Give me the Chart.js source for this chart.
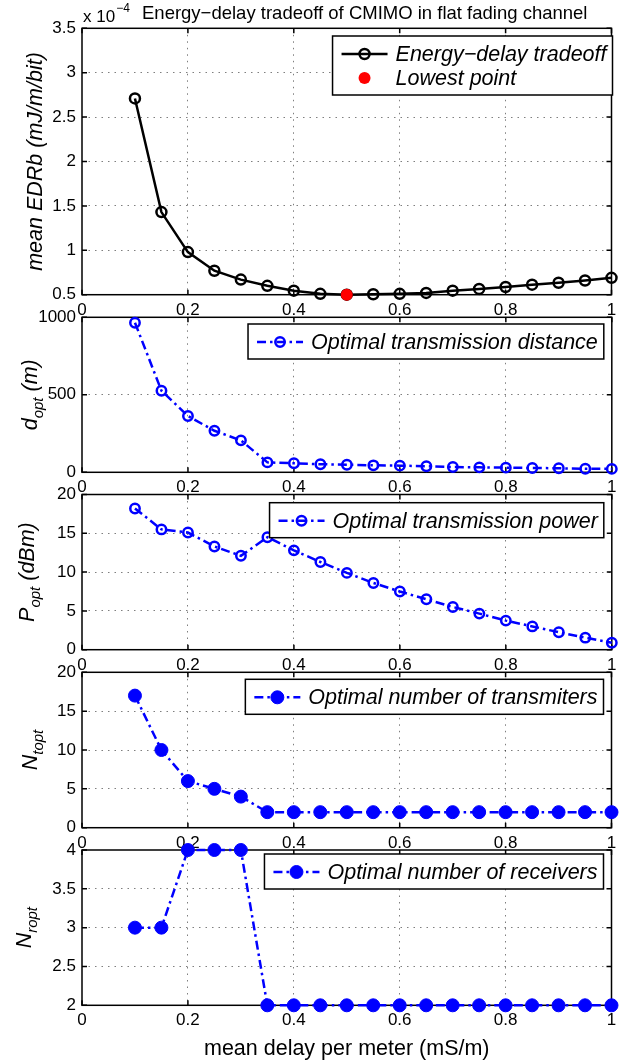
<!DOCTYPE html>
<html>
<head>
<meta charset="utf-8">
<script src="https://cdn.jsdelivr.net/npm/chart.js@4.4.0/dist/chart.umd.min.js"></script>
<style>
    html, body { margin: 0; padding: 0; background: #fff; }
    #figure { position: relative; width: 619px; height: 1061px; overflow: hidden; }
    #figure canvas { position: absolute; left: 0; top: 0; }
</style>
</head>
<body>
<div id="figure">
    <canvas id="edrbChart" width="619" height="1061"></canvas>
    <canvas id="distanceChart" width="619" height="1061"></canvas>
    <canvas id="powerChart" width="619" height="1061"></canvas>
    <canvas id="transmittersChart" width="619" height="1061"></canvas>
    <canvas id="receiversChart" width="619" height="1061"></canvas>
</div>
<script>
const fontFamily = "'Liberation Sans', Arial, Helvetica, sans-serif"

// mean delay per meter (mS/m)
const delay = [0.1, 0.15, 0.2, 0.25, 0.3, 0.35, 0.4, 0.45, 0.5, 0.55, 0.6, 0.65, 0.7, 0.75, 0.8, 0.85, 0.9, 0.95, 1.0]
const delayTicks = [0, 0.2, 0.4, 0.6, 0.8, 1]

// mean EDRb, x 1e-4 mJ/m/bit
const meanEdrb = [2.71, 1.43, 0.98, 0.77, 0.67, 0.60, 0.545, 0.51, 0.50, 0.505, 0.51, 0.52, 0.545, 0.565, 0.587, 0.613, 0.635, 0.66, 0.69]
const lowestDelay = [0.5]
const lowestEdrb = [0.5]
const edrbTicks = [0.5, 1, 1.5, 2, 2.5, 3, 3.5]

const distanceOpt = [965, 526, 363, 268, 206, 64, 58, 52, 49, 45, 43, 39, 34, 32, 30, 28, 26, 23, 22]
const distanceTicks = [0, 500, 1000]

const powerOpt = [18.2, 15.5, 15.1, 13.3, 12.1, 14.5, 12.8, 11.3, 9.9, 8.6, 7.5, 6.5, 5.5, 4.65, 3.75, 3.0, 2.25, 1.55, 0.9]
const powerTicks = [0, 5, 10, 15, 20]

const transmittersOpt = [17, 10, 6, 5, 4, 2, 2, 2, 2, 2, 2, 2, 2, 2, 2, 2, 2, 2, 2]
const transmittersTicks = [0, 5, 10, 15, 20]

const receiversOpt = [3, 3, 4, 4, 4, 2, 2, 2, 2, 2, 2, 2, 2, 2, 2, 2, 2, 2, 2]
const receiversTicks = [2, 2.5, 3, 3.5, 4]

const dashDot = [9, 4, 2.5, 4]

function toPoints(xs, ys) {
    return xs.map((x, i) => ({x: x, y: ys[i]}))
}

function drawMarker(ctx, d, cx, cy) {
    ctx.save()
    ctx.beginPath()
    ctx.arc(cx, cy, d.pointRadius, 0, Math.PI * 2)
    if (d.pointBackgroundColor && d.pointBackgroundColor !== 'transparent') {
        ctx.fillStyle = d.pointBackgroundColor
        ctx.fill()
    }
    if (d.pointBorderWidth) {
        ctx.lineWidth = d.pointBorderWidth
        ctx.strokeStyle = d.pointBorderColor
        ctx.stroke()
    }
    ctx.restore()
}

// axes box with inward tick marks
const framePlugin = {
    id: 'frame',
    beforeDatasetsDraw(chart) {
        const {ctx, chartArea: {left, right, top, bottom}, scales: {x, y}} = chart
        ctx.save()
        ctx.strokeStyle = '#000'
        ctx.lineWidth = 1.5
        ctx.beginPath()
        x.ticks.forEach(t => {
            const px = x.getPixelForValue(t.value)
            ctx.moveTo(px, bottom); ctx.lineTo(px, bottom - 5)
            ctx.moveTo(px, top); ctx.lineTo(px, top + 5)
        })
        y.ticks.forEach(t => {
            const py = y.getPixelForValue(t.value)
            ctx.moveTo(left, py); ctx.lineTo(left + 5, py)
            ctx.moveTo(right, py); ctx.lineTo(right - 5, py)
        })
        ctx.stroke()
        ctx.strokeRect(left, top, right - left, bottom - top)
        ctx.restore()
    }
}

// rotated y label with subscripts
const yTitlePlugin = {
    id: 'yTitle',
    afterDraw(chart, args, opts) {
        const {ctx, chartArea: {top, bottom}} = chart
        const size = 21.5
        const subSize = 15
        ctx.save()
        const widths = opts.parts.map(p => {
            ctx.font = `italic ${p.sub ? subSize : size}px ${fontFamily}`
            return ctx.measureText(p.text).width
        })
        const total = widths.reduce((a, b) => a + b, 0)
        ctx.translate(opts.x, (top + bottom) / 2)
        ctx.rotate(-Math.PI / 2)
        ctx.fillStyle = '#000'
        ctx.textBaseline = 'alphabetic'
        let u = -total / 2
        opts.parts.forEach((p, i) => {
            ctx.font = `italic ${p.sub ? subSize : size}px ${fontFamily}`
            ctx.fillText(p.text, u, p.sub ? 6 : 0)
            u += widths[i]
        })
        ctx.restore()
    }
}

const boxLegendPlugin = {
    id: 'boxLegend',
    afterDatasetsDraw(chart, args, opts) {
        const {ctx, chartArea} = chart
        const items = chart.data.datasets
        const padL = 9, sample = 46, gap = 8, padR = 6, rowH = 24, padT = 6, padB = 5
        ctx.save()
        ctx.font = `italic 21.5px ${fontFamily}`
        const textW = Math.max(...items.map(d => ctx.measureText(d.label).width))
        const w = padL + sample + gap + textW + padR
        const h = padT + rowH * items.length + padB
        const right = chartArea.right - opts.inset
        const left = right - w
        const top = chartArea.top + opts.top
        ctx.fillStyle = '#fff'
        ctx.fillRect(left, top, w, h)
        ctx.strokeStyle = '#000'
        ctx.lineWidth = 1.5
        ctx.strokeRect(left, top, w, h)
        items.forEach((d, i) => {
            const cy = top + padT + rowH * i + rowH / 2
            const x0 = left + padL
            if (d.showLine !== false) {
                ctx.save()
                ctx.strokeStyle = d.borderColor
                ctx.lineWidth = d.borderWidth
                ctx.setLineDash(d.borderDash || [])
                ctx.beginPath()
                ctx.moveTo(x0, cy)
                ctx.lineTo(x0 + sample, cy)
                ctx.stroke()
                ctx.restore()
            }
            drawMarker(ctx, d, x0 + sample / 2, cy)
            ctx.fillStyle = '#000'
            ctx.textBaseline = 'middle'
            ctx.textAlign = 'left'
            ctx.font = `italic 21.5px ${fontFamily}`
            ctx.fillText(d.label, x0 + sample + gap, cy + 1)
        })
        ctx.restore()
    }
}

const figureTitlePlugin = {
    id: 'figureTitle',
    afterDraw(chart) {
        const ctx = chart.ctx
        ctx.save()
        ctx.fillStyle = '#000'
        ctx.textBaseline = 'alphabetic'
        ctx.font = `17px ${fontFamily}`
        ctx.fillText('x 10', 83, 22)
        const w = ctx.measureText('x 10').width
        ctx.font = `12px ${fontFamily}`
        ctx.fillText('\u22124', 83 + w + 1, 12)
        ctx.font = `18.5px ${fontFamily}`
        ctx.fillText('Energy\u2212delay tradeoff of CMIMO in flat fading channel', 142, 19)
        ctx.restore()
    }
}

const xTitlePlugin = {
    id: 'xTitle',
    afterDraw(chart) {
        const {ctx, chartArea: {left, right, bottom}} = chart
        ctx.save()
        ctx.fillStyle = '#000'
        ctx.textAlign = 'center'
        ctx.textBaseline = 'alphabetic'
        ctx.font = `21.5px ${fontFamily}`
        ctx.fillText('mean delay per meter (mS/m)', (left + right) / 2, bottom + 50)
        ctx.restore()
    }
}

function axisTicks(values) {
    return scale => { scale.ticks = values.map(v => ({value: v})) }
}

function gridColor(values) {
    return context => {
        const v = context.tick ? context.tick.value : null
        if (v === values[0] || v === values[values.length - 1]) {
            return 'rgba(0,0,0,0)'
        }
        return 'rgba(0,0,0,0.5)'
    }
}

function buildPanel(canvasId, panel) {
    const xAxisHeight = 40
    const config = {
        type: 'line',
        data: {datasets: panel.datasets},
        options: {
            responsive: false,
            animation: false,
            devicePixelRatio: 1,
            events: [],
            layout: {
                padding: {left: 0, right: 4, top: panel.top, bottom: 1061 - panel.bottom - xAxisHeight}
            },
            scales: {
                x: {
                    type: 'linear',
                    min: 0,
                    max: 1,
                    afterBuildTicks: axisTicks(delayTicks),
                    afterFit: scale => {
                        scale.height = xAxisHeight
                        scale.paddingLeft = 0
                        scale.paddingRight = 0
                    },
                    ticks: {
                        color: '#000',
                        padding: 5,
                        maxRotation: 0,
                        autoSkip: false,
                        font: {size: 17, family: fontFamily},
                        callback: v => String(v)
                    },
                    grid: {color: gridColor(delayTicks), lineWidth: 1, drawTicks: false},
                    border: {display: false, dash: [1.5, 5]}
                },
                y: {
                    type: 'linear',
                    min: panel.yTicks[0],
                    max: panel.yTicks[panel.yTicks.length - 1],
                    afterBuildTicks: axisTicks(panel.yTicks),
                    afterFit: scale => {
                        scale.width = 82
                        scale.paddingTop = 0
                        scale.paddingBottom = 0
                    },
                    ticks: {
                        color: '#000',
                        padding: 6,
                        autoSkip: false,
                        font: {size: 17, family: fontFamily},
                        callback: v => String(v)
                    },
                    grid: {color: gridColor(panel.yTicks), lineWidth: 1, drawTicks: false},
                    border: {display: false, dash: [1.5, 5]}
                }
            },
            plugins: {
                legend: {display: false},
                tooltip: {enabled: false},
                yTitle: panel.yTitle,
                boxLegend: panel.legend
            }
        },
        plugins: [framePlugin, boxLegendPlugin, yTitlePlugin].concat(panel.extraPlugins || [])
    }
    new Chart(document.getElementById(canvasId), config)
}

function blueSeries(label, values, filled) {
    return {
        label: label,
        data: toPoints(delay, values),
        borderColor: '#0000ff',
        borderWidth: 2.5,
        borderDash: dashDot,
        tension: 0,
        clip: false,
        pointRadius: filled ? 6.5 : 4.7,
        pointBorderWidth: filled ? 1 : 2.5,
        pointBorderColor: '#0000ff',
        pointBackgroundColor: filled ? '#0000ff' : 'transparent'
    }
}

buildPanel('edrbChart', {
    top: 28.3,
    bottom: 294.7,
    yTicks: edrbTicks,
    yTitle: {x: 42, parts: [{text: 'mean EDRb (mJ/m/bit)'}]},
    legend: {inset: -1, top: 7.7},
    extraPlugins: [figureTitlePlugin],
    datasets: [
        {
            label: 'Energy\u2212delay tradeoff',
            data: toPoints(delay, meanEdrb),
            borderColor: '#000',
            borderWidth: 2.5,
            tension: 0,
            clip: false,
            order: 1,
            pointRadius: 5,
            pointBorderWidth: 2.5,
            pointBorderColor: '#000',
            pointBackgroundColor: 'transparent'
        },
        {
            label: 'Lowest point',
            data: toPoints(lowestDelay, lowestEdrb),
            showLine: false,
            clip: false,
            order: 0,
            borderColor: '#ff0000',
            pointRadius: 6,
            pointBorderWidth: 0,
            pointBorderColor: '#ff0000',
            pointBackgroundColor: '#ff0000'
        }
    ]
})

buildPanel('distanceChart', {
    top: 317.3,
    bottom: 472.3,
    yTicks: distanceTicks,
    yTitle: {x: 37, parts: [{text: 'd'}, {text: 'opt', sub: true}, {text: ' (m)'}]},
    legend: {inset: 8, top: 6.7},
    datasets: [blueSeries('Optimal transmission distance', distanceOpt, false)]
})

buildPanel('powerChart', {
    top: 494.5,
    bottom: 649.7,
    yTicks: powerTicks,
    yTitle: {x: 34, parts: [{text: 'P'}, {text: 'opt', sub: true}, {text: ' (dBm)'}]},
    legend: {inset: 8, top: 8.2},
    datasets: [blueSeries('Optimal transmission power', powerOpt, false)]
})

buildPanel('transmittersChart', {
    top: 672.3,
    bottom: 827.7,
    yTicks: transmittersTicks,
    yTitle: {x: 37, parts: [{text: 'N'}, {text: 'topt', sub: true}]},
    legend: {inset: 8, top: 7},
    datasets: [blueSeries('Optimal number of transmiters', transmittersOpt, true)]
})

buildPanel('receiversChart', {
    top: 850,
    bottom: 1005.3,
    yTicks: receiversTicks,
    yTitle: {x: 31, parts: [{text: 'N'}, {text: 'ropt', sub: true}]},
    legend: {inset: 8, top: 4},
    extraPlugins: [xTitlePlugin],
    datasets: [blueSeries('Optimal number of receivers', receiversOpt, true)]
})
</script>
</body>
</html>
